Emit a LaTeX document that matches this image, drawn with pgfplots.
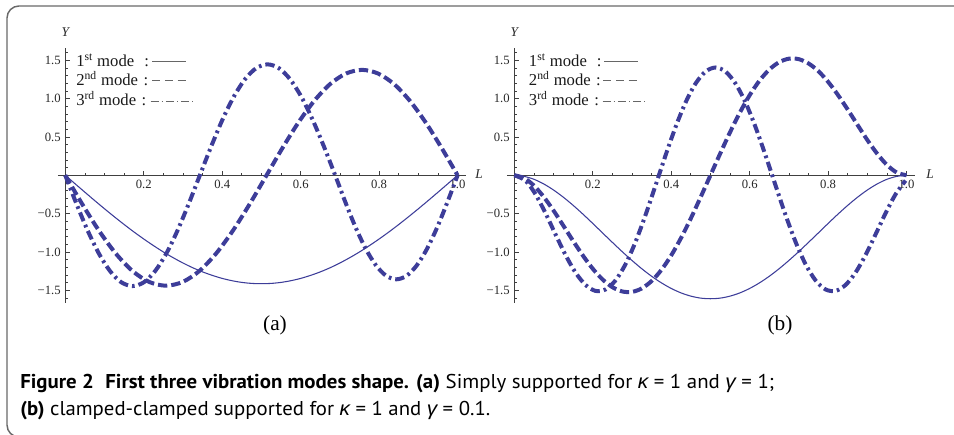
\documentclass[border=0pt]{standalone}
\usepackage{pgfplots}
\pgfplotsset{compat=1.18}
\usepackage{graphicx}
\usepackage{fontspec}
\setmainfont{Liberation Serif}
\newfontfamily\capfont{PT Sans}
\newfontfamily\greekfont{Liberation Sans}

\definecolor{modeblue}{RGB}{61,61,153}
\definecolor{framegray}{RGB}{105,105,105}

\pgfplotsset{
  modeaxis/.style={
    scale only axis,
    anchor=south west,
    x=294.2pt, y=57.5pt,
    xmin=-0.019, xmax=1.021, ymin=-1.665, ymax=1.665,
    axis lines=middle,
    axis line style={-, black!75, line width=0.5pt},
    xtick={0.2,0.4,0.6,0.8,1.0},
    xticklabels={0.2,0.4,0.6,0.8,1.0},
    minor xtick={0.05,0.1,0.15,0.25,0.3,0.35,0.45,0.5,0.55,0.65,0.7,0.75,0.85,0.9,0.95},
    ytick={-1.5,-1,-0.5,0.5,1,1.5},
    yticklabels={−1.5,−1.0,−0.5,0.5,1.0,1.5},
    minor ytick={-1.6,-1.4,-1.3,-1.2,-1.1,-0.9,-0.8,-0.7,-0.6,-0.4,-0.3,-0.2,-0.1,0.1,0.2,0.3,0.4,0.6,0.7,0.8,0.9,1.1,1.2,1.3,1.4,1.6},
    tick align=inside,
    major tick length=3.4pt,
    minor tick length=2pt,
    tick style={black!75, line width=0.5pt},
    tick label style={font=\fontsize{9.5}{9.5}\selectfont, text=black!85},
    clip=false,
  },
  m1/.style={modeblue, line width=0.8pt, smooth},
  m2/.style={modeblue, line width=3pt, dash pattern=on 7pt off 3pt, smooth},
  m3/.style={modeblue, line width=3pt, dash pattern=on 7pt off 3pt on 2pt off 3pt, smooth},
}

\begin{document}
\begin{tikzpicture}
\useasboundingbox (0,0) rectangle (715.5pt,326.25pt);
\clip (0,0) rectangle (715.5pt,326.25pt);
\draw[framegray, line width=1.1pt, rounded corners=9pt] (5.25pt,-1.5pt) rectangle (740pt,321.75pt);

% (a) simply supported
\begin{axis}[modeaxis, at={(43.39pt,99.04pt)}]
\addplot[m1] coordinates {
(0,0) (0.025,-0.111) (0.05,-0.221) (0.075,-0.330) (0.1,-0.437) (0.125,-0.541)
(0.15,-0.642) (0.175,-0.739) (0.2,-0.831) (0.225,-0.918) (0.25,-1.000) (0.275,-1.075)
(0.3,-1.144) (0.325,-1.206) (0.35,-1.260) (0.375,-1.306) (0.4,-1.345) (0.425,-1.375)
(0.45,-1.397) (0.475,-1.410) (0.5,-1.414) (0.525,-1.410) (0.55,-1.397) (0.575,-1.375)
(0.6,-1.345) (0.625,-1.306) (0.65,-1.260) (0.675,-1.206) (0.7,-1.144) (0.725,-1.075)
(0.75,-1.000) (0.775,-0.918) (0.8,-0.831) (0.825,-0.739) (0.85,-0.642) (0.875,-0.541)
(0.9,-0.437) (0.925,-0.330) (0.95,-0.221) (0.975,-0.111) (1,0)};
\addplot[m2] coordinates {
(0,0) (0.0428,-0.373) (0.0855,-0.720) (0.1283,-1.018) (0.171,-1.247) (0.2138,-1.391)
(0.2565,-1.440) (0.2993,-1.391) (0.342,-1.247) (0.3848,-1.018) (0.4275,-0.720)
(0.4703,-0.373) (0.513,0) (0.5536,0.356) (0.5942,0.688) (0.6348,0.972) (0.6753,1.191)
(0.7159,1.328) (0.7565,1.375) (0.7971,1.328) (0.8377,1.191) (0.8783,0.972)
(0.9188,0.688) (0.9594,0.356) (1,0)};
\addplot[m3] coordinates {
(0,0) (0.0286,-0.374) (0.0572,-0.723) (0.0858,-1.022) (0.1143,-1.251) (0.1429,-1.396)
(0.1715,-1.445) (0.2001,-1.396) (0.2287,-1.251) (0.2573,-1.022) (0.2858,-0.723)
(0.3144,-0.374) (0.343,0) (0.3718,0.375) (0.4005,0.724) (0.4293,1.023) (0.458,1.253)
(0.4868,1.398) (0.5155,1.447) (0.5443,1.398) (0.573,1.253) (0.6018,1.023) (0.6305,0.724)
(0.6593,0.375) (0.688,0) (0.714,-0.351) (0.74,-0.679) (0.766,-0.960) (0.792,-1.175)
(0.818,-1.311) (0.844,-1.357) (0.87,-1.311) (0.896,-1.175) (0.922,-0.960) (0.948,-0.679)
(0.974,-0.351) (1,0)};
\end{axis}

% (b) clamped-clamped
\begin{axis}[modeaxis, at={(380.14pt,99.04pt)}]
\addplot[m1] coordinates {
(0,0) (0.025,-0.014) (0.05,-0.052) (0.075,-0.113) (0.1,-0.192) (0.125,-0.286)
(0.15,-0.392) (0.175,-0.507) (0.2,-0.628) (0.225,-0.752) (0.25,-0.875) (0.275,-0.996)
(0.3,-1.111) (0.325,-1.219) (0.35,-1.317) (0.375,-1.403) (0.4,-1.476) (0.425,-1.534)
(0.45,-1.576) (0.475,-1.602) (0.5,-1.610) (0.525,-1.602) (0.55,-1.576) (0.575,-1.534)
(0.6,-1.476) (0.625,-1.403) (0.65,-1.317) (0.675,-1.219) (0.7,-1.111) (0.725,-0.996)
(0.75,-0.875) (0.775,-0.752) (0.8,-0.628) (0.825,-0.507) (0.85,-0.392) (0.875,-0.286)
(0.9,-0.192) (0.925,-0.113) (0.95,-0.052) (0.975,-0.014) (1,0)};
\addplot[m2] coordinates {
(0,0) (0.025,-0.036) (0.05,-0.135) (0.075,-0.282) (0.1,-0.460) (0.125,-0.657)
(0.15,-0.857) (0.175,-1.048) (0.2,-1.219) (0.225,-1.359) (0.25,-1.459) (0.275,-1.515)
(0.3,-1.521) (0.325,-1.475) (0.35,-1.379) (0.375,-1.234) (0.4,-1.045) (0.425,-0.818)
(0.45,-0.562) (0.475,-0.285) (0.5,0) (0.525,0.285) (0.55,0.562) (0.575,0.818)
(0.6,1.045) (0.625,1.234) (0.65,1.379) (0.675,1.475) (0.7,1.521) (0.725,1.515)
(0.75,1.459) (0.775,1.359) (0.8,1.219) (0.825,1.048) (0.85,0.857) (0.875,0.657)
(0.9,0.460) (0.925,0.282) (0.95,0.135) (0.975,0.036) (1,0)};
\addplot[m3] coordinates {
(0,0) (0.0285,-0.069) (0.054,-0.247) (0.0795,-0.494) (0.105,-0.770) (0.1305,-1.039)
(0.156,-1.268) (0.1815,-1.430) (0.207,-1.508) (0.2325,-1.489) (0.258,-1.371)
(0.2835,-1.160) (0.309,-0.869) (0.3345,-0.518) (0.36,-0.133) (0.3855,0.259)
(0.411,0.628) (0.4365,0.949) (0.462,1.196) (0.4875,1.353) (0.513,1.406) (0.5385,1.353)
(0.564,1.196) (0.5895,0.949) (0.615,0.628) (0.6405,0.259) (0.666,-0.133) (0.6915,-0.518)
(0.717,-0.869) (0.7425,-1.160) (0.768,-1.371) (0.7935,-1.489) (0.819,-1.508)
(0.8445,-1.430) (0.87,-1.268) (0.8955,-1.039) (0.921,-0.770) (0.9465,-0.494)
(0.972,-0.247) (0.9975,-0.069)};
\end{axis}

% axis letters
\begin{scope}[every node/.style={font=\itshape\fontsize{10}{10}\selectfont, text=black!85}]
\node at (49pt,302.25pt) {Y};
\node at (385.7pt,302.25pt) {Y};
\node at (359.25pt,195.5pt) {L};
\node at (697.5pt,195.5pt) {L};
\end{scope}

% legends
\begin{scope}[every node/.style={anchor=base west, inner sep=0pt, font=\fontsize{12.5}{12.5}\selectfont, text=black!90}]
\node at (57pt,276.5pt) {1\textsuperscript{st} mode};
\node at (57pt,262pt) {2\textsuperscript{nd} mode};
\node at (57pt,247pt) {3\textsuperscript{rd} mode};
\node at (108pt,276.5pt) {:};
\node at (107.5pt,262pt) {:};
\node at (106pt,247pt) {:};
\node at (396.5pt,276.5pt) {1\textsuperscript{st} mode};
\node at (396.5pt,262pt) {2\textsuperscript{nd} mode};
\node at (396.5pt,247pt) {3\textsuperscript{rd} mode};
\node at (447.5pt,276.5pt) {:};
\node at (446.8pt,262pt) {:};
\node at (445.6pt,247pt) {:};
\end{scope}
\begin{scope}[black!60, line width=0.5pt]
\draw (114.2pt,280.5pt) -- (139.5pt,280.5pt);
\draw[dash pattern=on 6pt off 3.5pt] (114.2pt,265.7pt) -- (140.8pt,265.7pt);
\draw[dash pattern=on 6pt off 2.2pt on 1pt off 2.2pt] (113pt,250.5pt) -- (144.2pt,250.5pt);
\draw (453.2pt,280.5pt) -- (478.7pt,280.5pt);
\draw[dash pattern=on 6pt off 3.5pt] (452.5pt,265.7pt) -- (480pt,265.7pt);
\draw[dash pattern=on 6pt off 2.2pt on 1pt off 2.2pt] (452pt,250.5pt) -- (483.2pt,250.5pt);
\end{scope}

% sub-labels
\node[font=\fontsize{16}{16}\selectfont] at (206.25pt,82.5pt) {(a)};
\node[font=\fontsize{16}{16}\selectfont] at (585pt,82.5pt) {(b)};

% caption
\node[anchor=base west, inner sep=0pt] at (15pt,34.5pt) {\resizebox{565.5pt}{\height}{\capfont\fontsize{15}{15}\selectfont
  \textbf{Figure 2\hspace{0.55em}First three vibration modes shape. (a)} Simply supported for {\greekfont\itshape κ} = 1 and {\greekfont\itshape γ} = 1;}};
\node[anchor=base west, inner sep=0pt] at (15pt,14.25pt) {\resizebox{352.5pt}{\height}{\capfont\fontsize{15}{15}\selectfont
  \textbf{(b)} clamped-clamped supported for {\greekfont\itshape κ} = 1 and {\greekfont\itshape γ} = 0.1.}};
\end{tikzpicture}
\end{document}
